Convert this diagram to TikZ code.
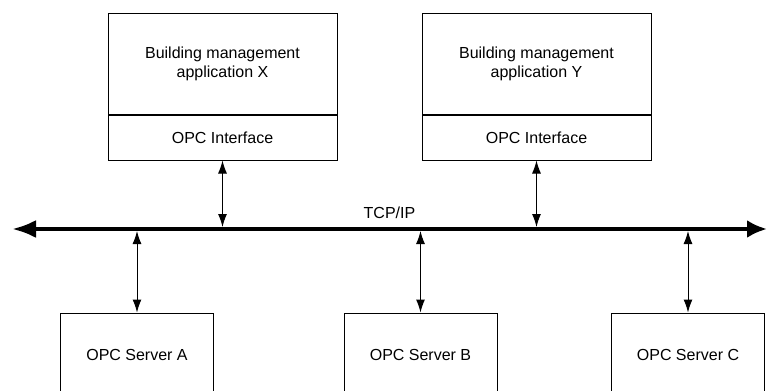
\documentclass[tikz,border=0pt]{standalone}
\usepackage{fontspec}
\setmainfont{Liberation Sans}
\usetikzlibrary{arrows.meta,positioning}

\tikzset{
app/.style={draw, line width=0.5pt, minimum width=114.5pt, minimum height=50.5pt, inner sep=0pt, align=center, font=\fontsize{8}{9.5}\selectfont},
iface/.style={app, minimum height=22.5pt},
server/.style={app, minimum width=76.5pt, minimum height=42pt},
link/.style={{Latex[length=6.5pt,width=4.5pt]}-{Latex[length=6.5pt,width=4.5pt]}, line width=0.5pt},
bus/.style={{Latex[length=12pt,width=9pt]}-{Latex[length=10pt,width=9pt]}, line width=2pt}
}

\begin{document}
\begin{tikzpicture}[x=0.5pt, y=-0.5pt]
\useasboundingbox (0,0) rectangle (767,391);
\node[app] (appX) at (222.5,63.5) {Building management\\application X};
\node[iface, below=0pt of appX] (ifX) {OPC Interface};
\node[app, right=42pt of appX] (appY) {Building management\\application Y};
\node[iface, below=0pt of appY] (ifY) {OPC Interface};
\coordinate (busL) at (12,229);
\coordinate (busR) at (767,229);
\draw[bus] (busL) -- (busR) node[midway, above=1pt, font=\fontsize{8}{9.5}\selectfont] (tcp) {TCP/IP};
\node[server] (srvA) at (137,355) {OPC Server A};
\node[server] (srvB) at (420.5,355) {OPC Server B};
\node[server] (srvC) at (688,355) {OPC Server C};
\draw[link, shorten >=1pt] (ifX.south) -- (ifX.south |- busL);
\draw[link, shorten >=1pt] (ifY.south) -- (ifY.south |- busL);
\foreach \s in {srvA,srvB,srvC}
  \draw[link, shorten <=1pt] (\s.north |- busL) -- (\s.north);
\end{tikzpicture}
\end{document}
